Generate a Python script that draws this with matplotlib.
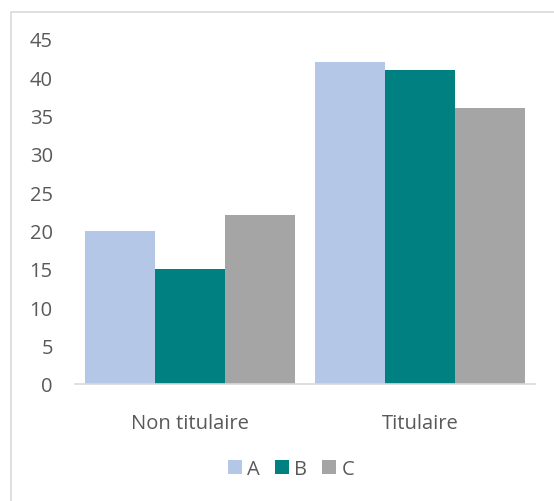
import matplotlib.pyplot as plt
import numpy as np
from matplotlib.lines import Line2D

# Données
categories = ['Non titulaire', 'Titulaire']
series = ['A', 'B', 'C']
values_a = [20, 42]
values_b = [15, 41]
values_c = [22, 36]
colors = ['#b4c7e7', '#008080', '#a5a5a5']

plt.rcParams['font.family'] = ['Open Sans', 'DejaVu Sans']
text_color = '#595959'

fig = plt.figure(figsize=(5.54, 5.02), dpi=100)
ax = fig.add_axes([75 / 554, 1 - 385 / 502, 460 / 554, 345 / 502])

x = np.arange(len(categories))
width = 0.304
for k, (vals, name) in enumerate(zip([values_a, values_b, values_c], series)):
    ax.bar(x + (k - 1) * width, vals, width, color=colors[k], label=name)

ax.set_xlim(-0.5, 1.5)
ax.set_ylim(0, 45)
ax.set_yticks(np.arange(0, 46, 5))
ax.set_xticks(x)
ax.set_xticklabels(categories)
ax.tick_params(axis='both', length=0, labelsize=14.5, colors=text_color)
ax.tick_params(axis='y', pad=16)
ax.tick_params(axis='x', pad=21)
for side in ['top', 'right', 'left']:
    ax.spines[side].set_visible(False)
ax.spines['bottom'].set_color('#d9d9d9')
ax.spines['bottom'].set_linewidth(1.2)

leg = fig.legend(loc='center', bbox_to_anchor=(291 / 554, 1 - 470 / 502), ncol=3,
                 frameon=False, fontsize=14.5, handlelength=0.7, handleheight=0.7,
                 handletextpad=0.25, columnspacing=0.75)
for t in leg.get_texts():
    t.set_color(text_color)

# Cadre du graphique (bords haut et gauche visibles)
fig.lines.append(Line2D([10.5 / 554, 10.5 / 554, 1.0], [0.0, 1 - 12.5 / 502, 1 - 12.5 / 502],
                        transform=fig.transFigure, color='#d9d9d9', linewidth=1.2))

fig.savefig('out.png', dpi=100)
